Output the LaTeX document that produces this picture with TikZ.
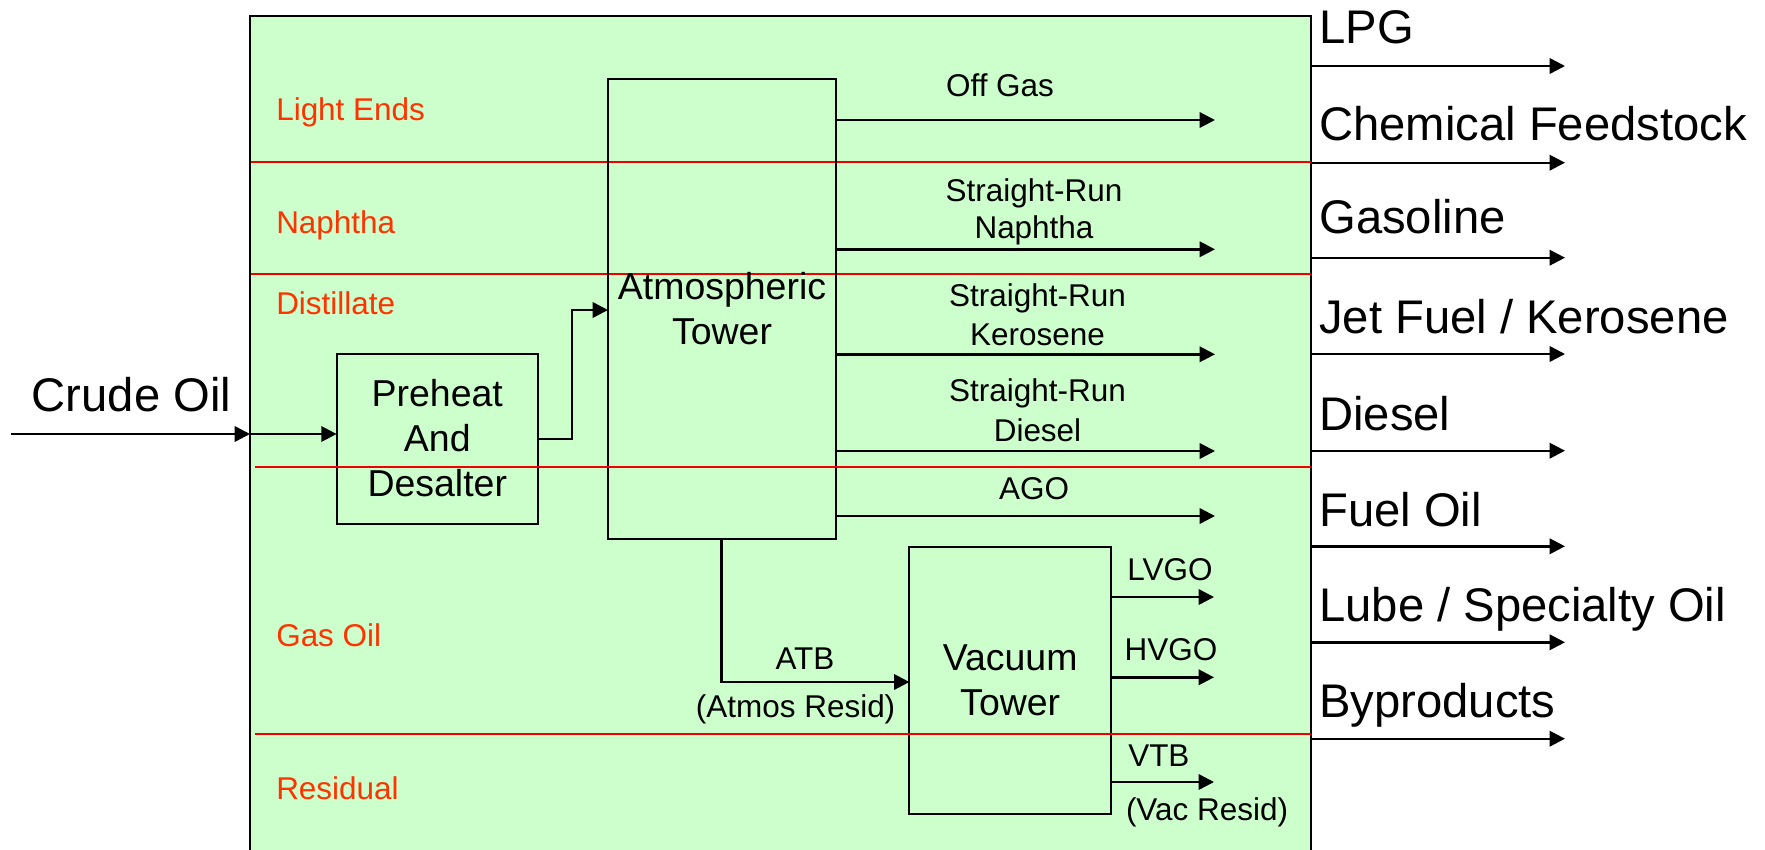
\documentclass[tikz,border=0pt]{standalone}
\usepackage{fontspec}
\setmainfont{Liberation Sans}
\usetikzlibrary{arrows.meta}
\definecolor{plantgreen}{RGB}{204,255,204}
\definecolor{zonered}{RGB}{255,51,0}
\definecolor{cutred}{RGB}{240,0,0}
\begin{document}
\begin{tikzpicture}[x=0.75pt,y=-0.75pt,
  big/.style={font=\fontsize{35.4}{40}\selectfont, inner sep=0pt, anchor=base west},
  small/.style={font=\fontsize{23.6}{28}\selectfont, inner sep=0pt, anchor=base},
  zone/.style={font=\fontsize{23.6}{28}\selectfont, text=zonered, inner sep=0pt, anchor=base west},
  unit/.style={draw, line width=1.5pt, inner sep=0pt, outer sep=0pt, align=center,
    font=\fontsize{28.1}{33.75}\selectfont},
  arr/.style={line width=1.8pt, -{Triangle[length=11.5pt,width=11.5pt]}},
  cut/.style={draw=cutred, line width=1.5pt}
]
\useasboundingbox (0,0) rectangle (1765,849);
% plant area
\coordinate (plantTL) at (250,16);
\coordinate (plantTR) at (1311,16);
\coordinate (plantBL) at (250,852);
\coordinate (plantBR) at (1311,852);
\fill[plantgreen] (plantTL) rectangle (plantBR);
\draw[line width=1.5pt] (plantBL) -- (plantTL) -- (plantTR) -- (plantBR);

% zone separators
\coordinate (c1) at (251,162);
\coordinate (c2) at (251,274);
\coordinate (c3) at (255,467);
\coordinate (c4) at (255,734);
\draw[cut] (c1) -- (c1 -| plantTR);
\draw[cut] (c2) -- (c2 -| plantTR);

% zone labels
\node[zone] (zLight) at (276,120.7) {Light Ends};
\node[zone] (zNaph) at (276,233.3) {Naphtha};
\node[zone] (zDist) at (276,314.3) {Distillate};
\node[zone] (zGas) at (276,646.7) {Gas Oil};
\node[zone] (zRes) at (276,799) {Residual};

% units
\node[unit, minimum width=151pt, minimum height=127.5pt] (preheat) at (437.3,438.5) {Preheat\\And\\Desalter};
\node[unit, minimum width=171pt, minimum height=345pt] (atmos) at (722,309) {Atmospheric\\Tower};
\node[unit, minimum width=151.2pt, minimum height=200.25pt] (vacuum) at (1010.2,680.5) {Vacuum\\Tower};

\draw[cut] (c3) -- (c3 -| plantTR);
\draw[cut] (c4) -- (c4 -| plantTR);

% crude feed
\node[big] (crude) at (31.5,411) {Crude Oil};
\coordinate (crudeIn) at (11,434);
\coordinate (crudeEdge) at (250,434);
\draw[arr] (crudeIn) -- (crudeEdge);
\draw[arr] (crudeEdge) -- (preheat.west |- crudeEdge);

% preheat -> atmospheric tower
\coordinate (phOut) at (538,439);
\coordinate (phBend) at (572,310);
\draw[arr] (preheat.east |- phOut) -| (phBend) -- (atmos.west |- phBend);

% atmospheric products
\coordinate (eOff) at (1215,120);
\coordinate (eNap) at (1215,249.3);
\coordinate (eKer) at (1215,354.3);
\coordinate (eDie) at (1215,451);
\coordinate (eAgo) at (1215,516);
\draw[arr] (atmos.east |- eOff) -- (eOff);
\draw[arr] (atmos.east |- eNap) -- (eNap);
\draw[arr] (atmos.east |- eKer) -- (eKer);
\draw[arr] (atmos.east |- eDie) -- (eDie);
\draw[arr] (atmos.east |- eAgo) -- (eAgo);
\node[small] (lOff) at (1000,96.7) {Off Gas};
\node[small] (lNap1) at (1034,201.7) {Straight-Run};
\node[small] (lNap2) at (1034,238) {Naphtha};
\node[small] (lKer1) at (1037.5,306.7) {Straight-Run};
\node[small] (lKer2) at (1037.5,345) {Kerosene};
\node[small] (lDie1) at (1037.5,401.7) {Straight-Run};
\node[small] (lDie2) at (1037.5,441.7) {Diesel};
\node[small] (lAgo) at (1034,499.3) {AGO};

% atmospheric bottoms -> vacuum tower
\coordinate (atbDown) at (721.5,682);
\draw[arr] (atmos.south -| atbDown) |- (vacuum.west |- atbDown);
\node[small] (lAtb) at (805,669.3) {ATB};
\node[small] (lAtb2) at (795.6,717.7) {(Atmos Resid)};

% vacuum products
\coordinate (eLv) at (1214,597);
\coordinate (eHv) at (1214,677.3);
\coordinate (eVtb) at (1214,782);
\draw[arr] (vacuum.east |- eLv) -- (eLv);
\draw[arr] (vacuum.east |- eHv) -- (eHv);
\draw[arr] (vacuum.east |- eVtb) -- (eVtb);
\node[small] (lLv) at (1170,580) {LVGO};
\node[small] (lHv) at (1171,660.7) {HVGO};
\node[small, anchor=base west] (lVtb) at (1128,766) {VTB};
\node[small] (lVtb2) at (1207,820) {(Vac Resid)};

% refinery products
\coordinate (pLPG) at (1565,66);
\coordinate (pChem) at (1565,162.7);
\coordinate (pGas) at (1565,257.7);
\coordinate (pJet) at (1565,354);
\coordinate (pDie) at (1565,450.7);
\coordinate (pFuel) at (1565,546.3);
\coordinate (pLube) at (1565,642.3);
\coordinate (pBy) at (1565,738.7);
\draw[arr] (pLPG -| plantTR) -- (pLPG);
\draw[arr] (pChem -| plantTR) -- (pChem);
\draw[arr] (pGas -| plantTR) -- (pGas);
\draw[arr] (pJet -| plantTR) -- (pJet);
\draw[arr] (pDie -| plantTR) -- (pDie);
\draw[arr] (pFuel -| plantTR) -- (pFuel);
\draw[arr] (pLube -| plantTR) -- (pLube);
\draw[arr] (pBy -| plantTR) -- (pBy);
\node[big] (tLPG) at (1319,43.3) {LPG};
\node[big] (tChem) at (1319,140) {Chemical Feedstock};
\node[big] (tGas) at (1319,233) {Gasoline};
\node[big] (tJet) at (1319,333) {Jet Fuel / Kerosene};
\node[big] (tDie) at (1319,430) {Diesel};
\node[big] (tFuel) at (1319,526) {Fuel Oil};
\node[big] (tLube) at (1319,621.7) {Lube / Specialty Oil};
\node[big] (tBy) at (1319,717) {Byproducts};
\end{tikzpicture}
\end{document}
